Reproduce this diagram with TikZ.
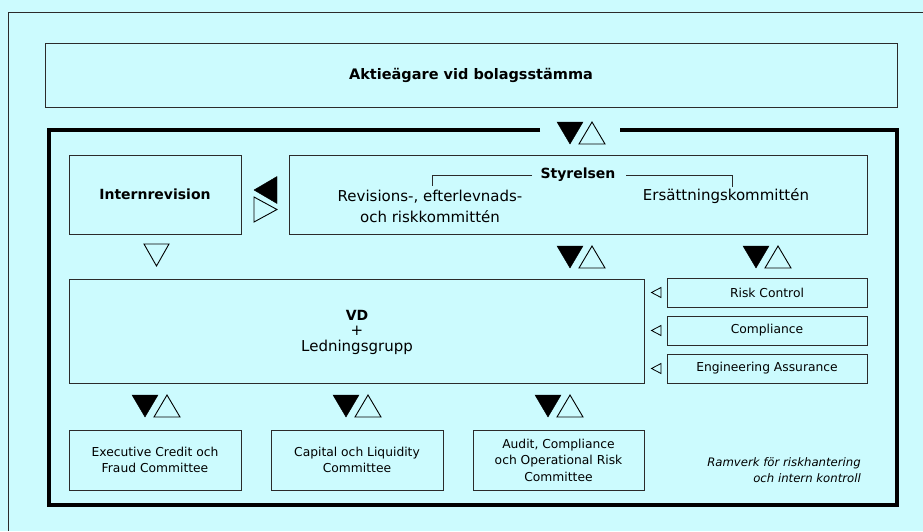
\documentclass[tikz,border=0pt]{standalone}
\usepackage{fontspec}
\setmainfont{DejaVu Sans}
\definecolor{bg}{HTML}{CCFBFE}
\definecolor{ln}{HTML}{2B2B2B}
\tikzset{
  box/.style={draw=ln, line width=1pt, inner sep=0pt, align=center, text=black},
  smalltxt/.style={font=\fontsize{12.3}{16.5}\selectfont, align=center},
  midtxt/.style={font=\fontsize{15}{21}\selectfont, align=center},
  boldtxt/.style={font=\fontsize{14}{17}\selectfont\bfseries, align=center},
  ittxt/.style={font=\fontsize{11.7}{16}\selectfont\itshape, align=right},
  opentri/.style={draw=black, line width=0.9pt, line join=miter, fill=bg},
  filltri/.style={fill=black, draw=black, line width=0.4pt, line join=miter},
}
\newcommand\tripair[2]{%
  \draw[filltri] ({#1},{#2}) -- ({#1+26},{#2}) -- ({#1+13},{#2+22}) -- cycle;
  \draw[opentri] ({#1+22},{#2+22}) -- ({#1+48},{#2+22}) -- ({#1+35},{#2}) -- cycle;
}
\begin{document}
\begin{tikzpicture}[x=1pt,y=-1pt]
  \fill[bg] (0,0) rectangle (923,531);
  \useasboundingbox (0,0) rectangle (923,531);
  % outer thin frame
  \draw[ln, line width=1pt] (8,531) -- (8,12) -- (923,12);
  % top box
  \node[box, minimum width=852pt, minimum height=64pt, font=\fontsize{14.5}{17}\selectfont\bfseries] (top) at (471,75) {Aktieägare vid bolagsstämma};
  % thick frame
  \draw[line width=4pt, line join=miter] (540,130) -- (49,130) -- (49,505) -- (897,505) -- (897,130) -- (620,130);
  \tripair{557}{122}
  % Internrevision
  \node[box, minimum width=172pt, minimum height=79pt, boldtxt] (ir) at (155,194.5) {Internrevision};
  % Styrelsen box
  \node[box, minimum width=578pt, minimum height=79pt] (sty) at (578,194.5) {};
  \node[boldtxt, inner sep=0pt] (styl) at (578,175) {Styrelsen};
  \node[midtxt, inner sep=0pt] (rev) at (430,206.5) {Revisions-, efterlevnads-\\och riskkommittén};
  \node[midtxt, inner sep=0pt] (ers) at (726,196) {Ersättningskommittén};
  \draw[ln, line width=1pt] (532,175) -- (432,175) -- (432,186);
  \draw[ln, line width=1pt] (626,175) -- (732,175) -- (732,187);
  % arrows between Internrevision and Styrelsen
  \draw[filltri] (254,190) -- (277,176.5) -- (277,203.5) -- cycle;
  \draw[opentri] (254,197) -- (277,209.5) -- (254,222) -- cycle;
  % open down triangle below Internrevision
  \draw[opentri] (144,244) -- (169,244) -- (156.5,266) -- cycle;
  % pairs below Styrelsen
  \tripair{557}{246}
  \tripair{743}{246}
  % VD box
  \node[box, minimum width=575pt, minimum height=104pt] (vd) at (356.5,331) {};
  \node[inner sep=0pt, align=center, font=\fontsize{15}{15.5}\selectfont] (vdt) at (357,332) {\textbf{\fontsize{14}{15.5}\selectfont VD}\\+\\Ledningsgrupp};
  % control boxes
  \node[box, minimum width=200pt, minimum height=29pt, smalltxt] (rc) at (767,292.5) {Risk Control};
  \node[box, minimum width=200pt, minimum height=29pt, smalltxt] (co) at (767,330.5) {Compliance};
  \node[box, minimum width=200pt, minimum height=29pt, smalltxt] (ea) at (767,368.5) {Engineering Assurance};
  \foreach \yy in {292.5,330.5,368.5}{
    \draw[opentri, line width=0.8pt] (651.5,\yy) -- (661,\yy-5) -- (661,\yy+5) -- cycle;
  }
  % pairs above committees
  \tripair{132}{395}
  \tripair{333}{395}
  \tripair{535}{395}
  % committees
  \node[box, minimum width=172pt, minimum height=60pt, smalltxt] (b1) at (155,460) {Executive Credit och\\Fraud Committee};
  \node[box, minimum width=172pt, minimum height=60pt, smalltxt] (b2) at (357,460) {Capital och Liquidity\\Committee};
  \node[box, minimum width=171pt, minimum height=60pt, smalltxt] (b3) at (558.5,460) {Audit, Compliance\\och Operational Risk\\Committee};
  % caption
  \node[ittxt, inner sep=0pt, anchor=east] (cap) at (861,470) {Ramverk för riskhantering\\och intern kontroll};
\end{tikzpicture}
\end{document}
